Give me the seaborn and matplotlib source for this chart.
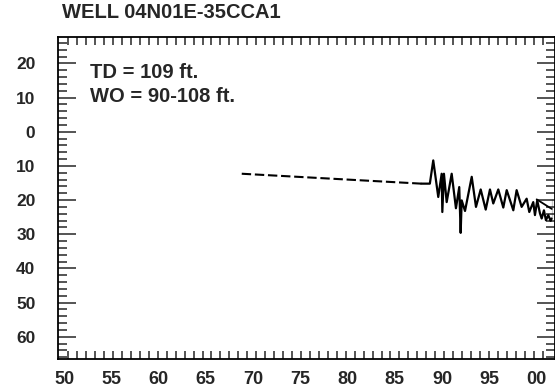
import numpy as np
import pandas as pd
import matplotlib
matplotlib.use("Agg")
import matplotlib.pyplot as plt
from matplotlib.ticker import FixedLocator, MultipleLocator, FuncFormatter
import seaborn as sns

# water level, feet below land surface (negative = above)
gap_years = [1968.8, 1987.8]
gap_levels = [12.3, 15.2]

years = [1987.8, 1988.7, 1989.06, 1989.59, 1989.95, 1990.02, 1990.19, 1990.48,
         1991.01, 1991.46, 1991.81, 1991.96, 1992.07, 1992.42, 1993.13, 1993.58,
         1994.08, 1994.61, 1995.06, 1995.41, 1995.94, 1996.47, 1996.83, 1997.53,
         1997.88, 1998.41, 1998.94, 1999.22, 1999.64, 1999.82, 2000.06, 2000.35,
         2000.53, 2000.77, 2000.98, 2001.23, 2001.48, 2001.58]
levels = [15.2, 15.2, 8.4, 19.1, 12.3, 23.5, 12.3, 20.6,
          12.3, 22.4, 16.2, 29.6, 20.1, 23.2, 13.2, 22.0,
          16.9, 22.8, 16.9, 21.0, 16.9, 22.2, 17.1, 23.0,
          17.1, 22.0, 19.6, 23.5, 20.6, 24.4, 20.1, 23.9,
          25.4, 23.0, 25.9, 24.4, 26.1, 25.4]

step_years = [2000.0, 2001.6, 2001.6]
step_levels = [19.8, 19.8, 25.4]

title = "WELL 04N01E-35CCA1"
notes = ["TD = 109 ft.", "WO = 90-108 ft."]
year_labels = ["50", "55", "60", "65", "70", "75", "80", "85", "90", "95", "00"]

sns.set_style("ticks")
plt.rcParams['font.family'] = ['Liberation Sans', 'DejaVu Sans']
plt.rcParams['font.weight'] = 'bold'

fig = plt.figure(figsize=(5.55, 3.9), dpi=100)
ax = fig.add_axes([57.7 / 555, 1 - 359.3 / 390, 1 - 57.7 / 555, (359.3 - 36.7) / 390])

sns.lineplot(x=gap_years, y=gap_levels, ax=ax, color='black', linewidth=1.5,
             linestyle=(0, (4.5, 1.8)), sort=False)
sns.lineplot(x=years, y=levels, ax=ax, color='black', linewidth=1.6, sort=False)
sns.lineplot(x=step_years, y=step_levels, ax=ax, color='black', linewidth=1.3, sort=False)

ax.set_xlim(1949.33, 2001.94)
ax.set_ylim(66.6, -27.8)

ax.set_xticks(np.arange(1950, 2001, 5))
ax.set_xticklabels(year_labels)
ax.xaxis.set_minor_locator(FixedLocator(np.linspace(1950.45, 2000.63, 54)))
ax.tick_params(axis='x', which='major', length=0, pad=8.5, labelsize=13)
ax.tick_params(axis='x', which='minor', direction='in', length=5.5, width=1.1,
               top=True, bottom=True)

ax.set_yticks(np.arange(-20, 61, 10))
ax.yaxis.set_major_formatter(FuncFormatter(lambda v, p: f"{abs(v):.0f}"))
ax.yaxis.set_minor_locator(MultipleLocator(2))
ax.tick_params(axis='y', which='major', direction='in', length=13, width=1.1,
               left=True, right=True, pad=16, labelsize=12.5)
ax.tick_params(axis='y', which='minor', direction='in', length=6.5, width=1.1,
               left=True, right=True)

for s in ax.spines.values():
    s.set_visible(True)
    s.set_linewidth(1.3)
    s.set_color('black')

ax.set_xlabel('')
ax.set_ylabel('')

fig.text(62 / 555, 1 - 12 / 390, title, fontsize=14.5, fontweight='bold', va='center', ha='left')
fig.text(90 / 555, 1 - 72 / 390, notes[0], fontsize=14.5, fontweight='bold', va='center', ha='left')
fig.text(90 / 555, 1 - 97 / 390, notes[1], fontsize=14.5, fontweight='bold', va='center', ha='left')

fig.savefig("out.png", dpi=100)
